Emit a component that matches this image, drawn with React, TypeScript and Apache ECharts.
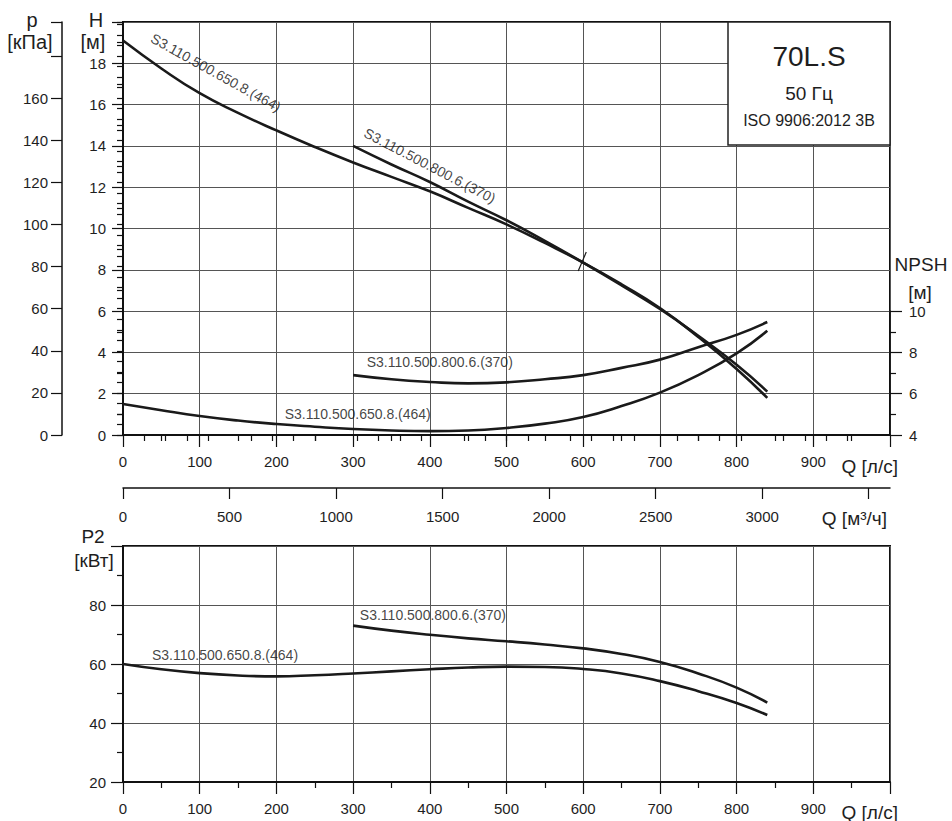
import React, { useEffect, useRef } from "react";
import * as echarts from "echarts";

// ---------- data ----------
const NAME_650 = "S3.110.500.650.8.(464)";
const NAME_800 = "S3.110.500.800.6.(370)";

// flow Q [l/s] sample points
const q650 = [0, 50, 100, 150, 200, 250, 300, 350, 400, 450, 500, 550, 600, 650, 700, 750, 800, 840];
const q800 = [300, 350, 400, 450, 500, 550, 600, 650, 700, 750, 800, 840];

// head H [m]
const head650 = [19.1, 17.75, 16.55, 15.6, 14.75, 13.95, 13.2, 12.5, 11.8, 11.0, 10.2, 9.3, 8.35, 7.3, 6.15, 4.75, 3.2, 1.8];
const head800 = [14.0, 13.1, 12.25, 11.3, 10.4, 9.4, 8.35, 7.25, 6.1, 4.8, 3.4, 2.1];

// NPSH [m]
const npsh650 = [5.5, 5.2, 4.92, 4.7, 4.53, 4.4, 4.29, 4.22, 4.19, 4.22, 4.34, 4.55, 4.87, 5.4, 6.05, 6.9, 7.95, 9.05];
const npsh800 = [6.9, 6.7, 6.57, 6.5, 6.55, 6.7, 6.9, 7.25, 7.65, 8.25, 8.85, 9.47];

// power P2 [kW]
const p2_650 = [60.0, 58.2, 56.9, 56.1, 55.8, 56.2, 56.8, 57.5, 58.2, 58.8, 59.1, 59.0, 58.3, 56.8, 54.2, 50.8, 46.8, 42.7];
const p2_800 = [73.0, 71.3, 69.9, 68.7, 67.7, 66.6, 65.3, 63.4, 60.7, 56.8, 52.0, 46.9];

// duty-point marker (short stroke on the H curve)
const dutyMark = [[604, 8.86], [593.5, 7.94]];

// ticks
const m3hMajorTicks = [0, 500, 1000, 1500, 2000, 2500, 3000, 3500];
const m3hLabels = [0, 500, 1000, 1500, 2000, 2500, 3000];
const m3hMinorTicks = [
  100, 200, 300, 400, 600, 700, 800, 900, 1100, 1200, 1300, 1400, 1600, 1700, 1800, 1900,
  2100, 2200, 2300, 2400, 2600, 2700, 2800, 2900, 3100, 3200, 3300, 3400,
];

// texts
const TITLE = "70L.S";
const FREQ = "50 Гц";
const STANDARD = "ISO 9906:2012 3B";

const FONT = "'Liberation Sans', Arial, sans-serif";
const INK = "#1e1e1e";
const GRIDC = "#555";

const zip = (xs: number[], ys: number[]) => xs.map((x, i) => [x, ys[i]]);

export default function App() {
  const ref = useRef<HTMLDivElement>(null);

  useEffect(() => {
    if (!ref.current) return;
    const chart = echarts.init(ref.current, undefined, { renderer: "svg" });

    const L = 123;
    const R = 62;
    const topTop = 22;
    const topH = 413;
    const pxPerM = topH / 20;
    const npshH = 6 * pxPerM;
    const npshTop = topTop + topH - npshH;
    const botTop = 546;
    const botH = 236;

    const axisLineStyle = { color: "#111", width: 2 };
    const tickLabel = { color: INK, fontSize: 15, fontFamily: FONT };
    const splitLine = { show: true, lineStyle: { color: GRIDC, width: 1 } };

    const curve = (name: string, xi: number, yi: number, data: number[][]) => ({
      type: "line",
      name,
      xAxisIndex: xi,
      yAxisIndex: yi,
      data,
      smooth: 0.5,
      symbol: "none",
      lineStyle: { color: "#1a1a1a", width: 2.6 },
      silent: true,
      z: 5,
    });

    const labelSeries = (xi: number, yi: number, items: any[]) => ({
      type: "scatter",
      xAxisIndex: xi,
      yAxisIndex: yi,
      symbolSize: 0,
      silent: true,
      z: 6,
      label: {
        show: true,
        position: "inside",
        formatter: "{b}",
        color: "#111",
        fontSize: 14,
        fontFamily: FONT,
      },
      data: items,
    });

    const option: any = {
      animation: false,
      backgroundColor: "#fff",
      textStyle: { fontFamily: FONT },
      grid: [
        { left: L, right: R, top: topTop, height: topH, show: true, borderColor: "#111", borderWidth: 2, backgroundColor: "transparent" },
        { left: L, right: R, top: npshTop, height: npshH, show: false },
        { left: L, right: R, top: botTop, height: botH, show: true, borderColor: "#111", borderWidth: 2, backgroundColor: "transparent" },
      ],
      xAxis: [
        {
          gridIndex: 0, type: "value", min: 0, max: 1000, interval: 100,
          axisLine: { show: true, onZero: false, lineStyle: axisLineStyle },
          axisTick: { show: true, length: 12, lineStyle: { color: "#111", width: 1.2 } },
          minorTick: { show: true, splitNumber: 2, length: 6, lineStyle: { color: "#111", width: 1.2 } },
          axisLabel: { ...tickLabel, margin: 19, formatter: (v: number) => (v >= 1000 ? "" : String(v)) },
          splitLine,
        },
        {
          gridIndex: 0, type: "value", min: 0, max: 3600, interval: 500, position: "bottom", offset: 53,
          axisLine: { show: true, onZero: false, lineStyle: { color: "#111", width: 1.5 } },
          axisTick: { show: true, length: 11, customValues: m3hMajorTicks, lineStyle: { color: "#111", width: 1.2 } },
          axisLabel: { ...tickLabel, margin: 21, customValues: m3hLabels, formatter: (v: number) => (v > 3000 ? "" : String(v)) },
          splitLine: { show: false },
        },
        {
          gridIndex: 0, type: "value", min: 0, max: 3600, interval: 100, position: "bottom", offset: 53,
          axisLine: { show: false },
          axisTick: { show: true, length: 6, customValues: m3hMinorTicks, lineStyle: { color: "#111", width: 1.2 } },
          axisLabel: { show: false },
          splitLine: { show: false },
        },
        { gridIndex: 1, type: "value", min: 0, max: 1000, show: false },
        {
          gridIndex: 2, type: "value", min: 0, max: 1000, interval: 100,
          axisLine: { show: true, onZero: false, lineStyle: axisLineStyle },
          axisTick: { show: true, length: 12, lineStyle: { color: "#111", width: 1.2 } },
          minorTick: { show: true, splitNumber: 2, length: 6, lineStyle: { color: "#111", width: 1.2 } },
          axisLabel: { ...tickLabel, margin: 19, formatter: (v: number) => (v >= 1000 ? "" : String(v)) },
          splitLine,
        },
      ],
      yAxis: [
        {
          gridIndex: 0, type: "value", min: 0, max: 20, interval: 2,
          axisLine: { show: true, onZero: false, lineStyle: axisLineStyle },
          axisTick: { show: true, length: 11, lineStyle: { color: "#111", width: 1.2 } },
          minorTick: { show: true, splitNumber: 2, length: 6, lineStyle: { color: "#111", width: 1.2 } },
          axisLabel: { ...tickLabel, margin: 17, formatter: (v: number) => (v >= 20 ? "" : String(v)) },
          splitLine,
        },
        {
          gridIndex: 0, type: "value", min: 0, max: 20 * 9.81, interval: 20, position: "left", offset: 61,
          axisLine: { show: true, onZero: false, lineStyle: { color: "#111", width: 1.5 } },
          axisTick: { show: true, length: 11, lineStyle: { color: "#111", width: 1.2 } },
          axisLabel: { ...tickLabel, margin: 14, formatter: (v: number) => (v > 160 ? "" : String(v)) },
          splitLine: { show: false },
        },
        {
          gridIndex: 0, type: "value", min: 0, max: 20 * 9.81, interval: 5, position: "left", offset: 61,
          axisLine: { show: false },
          axisTick: { show: true, length: 6, lineStyle: { color: "#111", width: 1.2 } },
          axisLabel: { show: false },
          splitLine: { show: false },
        },
        {
          gridIndex: 1, type: "value", min: 4, max: 10, interval: 2, position: "right",
          axisLine: { show: true, onZero: false, lineStyle: { color: "#111", width: 1.5 } },
          axisTick: { show: true, length: 12, lineStyle: { color: "#111", width: 1.2 } },
          minorTick: { show: true, splitNumber: 2, length: 6, lineStyle: { color: "#111", width: 1.2 } },
          axisLabel: { ...tickLabel, margin: 19 },
          splitLine: { show: false },
        },
        {
          gridIndex: 2, type: "value", min: 20, max: 100, interval: 20,
          axisLine: { show: true, onZero: false, lineStyle: axisLineStyle },
          axisTick: { show: true, length: 12, lineStyle: { color: "#111", width: 1.2 } },
          minorTick: { show: true, splitNumber: 2, length: 6, lineStyle: { color: "#111", width: 1.2 } },
          axisLabel: { ...tickLabel, margin: 17, formatter: (v: number) => (v >= 100 ? "" : String(v)) },
          splitLine,
        },
      ],
      series: [
        curve("H 650", 0, 0, zip(q650, head650)),
        curve("H 800", 0, 0, zip(q800, head800)),
        curve("NPSH 650", 3, 3, zip(q650, npsh650)),
        curve("NPSH 800", 3, 3, zip(q800, npsh800)),
        curve("P2 650", 4, 4, zip(q650, p2_650)),
        curve("P2 800", 4, 4, zip(q800, p2_800)),
        {
          type: "line", xAxisIndex: 0, yAxisIndex: 0, data: dutyMark, symbol: "none", silent: true,
          lineStyle: { color: "#1a1a1a", width: 1.2 }, z: 6,
        },
        labelSeries(0, 0, [
          { name: NAME_650, value: [121, 17.55], label: { rotate: -29 } },
          { name: NAME_800, value: [400, 13.05], label: { rotate: -27.5 } },
        ]),
        labelSeries(3, 3, [
          { name: NAME_650, value: [306, 5.02] },
          { name: NAME_800, value: [413, 7.53] },
        ]),
        labelSeries(4, 4, [
          { name: NAME_650, value: [133, 63.05] },
          { name: NAME_800, value: [404, 76.6] },
        ]),
      ],
      graphic: [
        { type: "rect", z: 100, shape: { x: 728, y: 22, width: 162, height: 123 }, style: { fill: "#fff", stroke: "#222", lineWidth: 1.5 } },
        { type: "text", z: 101, x: 809, y: 56, style: { text: TITLE, fontSize: 28, fontFamily: FONT, fill: INK, textAlign: "center", textVerticalAlign: "middle" } },
        { type: "text", z: 101, x: 809, y: 93, style: { text: FREQ, fontSize: 19, fontFamily: FONT, fill: INK, textAlign: "center", textVerticalAlign: "middle" } },
        { type: "text", z: 101, x: 809, y: 120, style: { text: STANDARD, fontSize: 16, fontFamily: FONT, fill: INK, textAlign: "center", textVerticalAlign: "middle" } },

        { type: "text", x: 32, y: 20, style: { text: "p", fontSize: 20, fontFamily: FONT, fill: INK, textAlign: "center", textVerticalAlign: "middle" } },
        { type: "text", x: 30, y: 42, style: { text: "[кПа]", fontSize: 20, fontFamily: FONT, fill: INK, textAlign: "center", textVerticalAlign: "middle" } },
        { type: "text", x: 96, y: 20, style: { text: "H", fontSize: 20, fontFamily: FONT, fill: INK, textAlign: "center", textVerticalAlign: "middle" } },
        { type: "text", x: 93, y: 42, style: { text: "[м]", fontSize: 20, fontFamily: FONT, fill: INK, textAlign: "center", textVerticalAlign: "middle" } },
        { type: "text", x: 921, y: 264, style: { text: "NPSH", fontSize: 19, fontFamily: FONT, fill: INK, textAlign: "center", textVerticalAlign: "middle" } },
        { type: "text", x: 920, y: 292, style: { text: "[м]", fontSize: 19, fontFamily: FONT, fill: INK, textAlign: "center", textVerticalAlign: "middle" } },
        { type: "text", x: 898, y: 466, style: { text: "Q [л/с]", fontSize: 19, fontFamily: FONT, fill: INK, textAlign: "right", textVerticalAlign: "middle" } },
        { type: "text", x: 887, y: 518, style: { text: "Q [м³/ч]", fontSize: 19, fontFamily: FONT, fill: INK, textAlign: "right", textVerticalAlign: "middle" } },
        { type: "text", x: 93, y: 536, style: { text: "P2", fontSize: 19, fontFamily: FONT, fill: INK, textAlign: "center", textVerticalAlign: "middle" } },
        { type: "text", x: 94, y: 560, style: { text: "[кВт]", fontSize: 19, fontFamily: FONT, fill: INK, textAlign: "center", textVerticalAlign: "middle" } },
        { type: "text", x: 898, y: 812, style: { text: "Q [л/с]", fontSize: 19, fontFamily: FONT, fill: INK, textAlign: "right", textVerticalAlign: "middle" } },
      ],
    };

    chart.setOption(option);
    return () => chart.dispose();
  }, []);

  return (
    <div
      ref={ref}
      style={{ position: "fixed", left: 0, top: 0, width: 952, height: 821, background: "#fff" }}
    />
  );
}
